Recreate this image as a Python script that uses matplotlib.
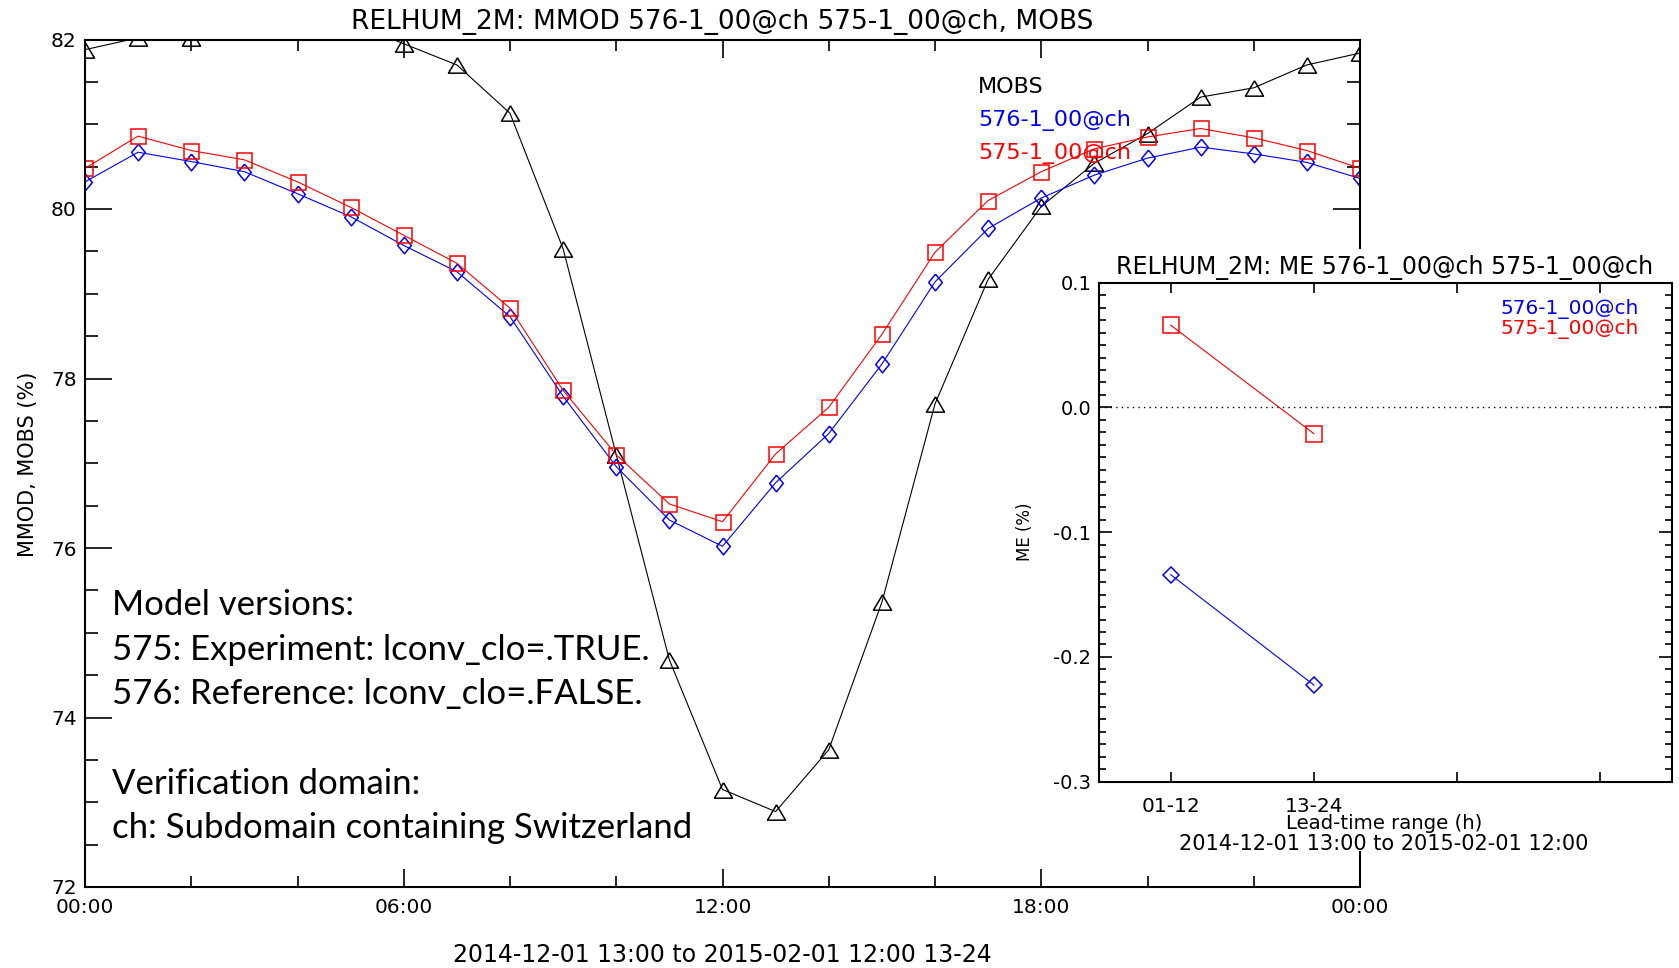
import numpy as np
import matplotlib
matplotlib.use("Agg")
import matplotlib.pyplot as plt
from matplotlib.patches import Rectangle

W, H = 1679, 968

# ---- data: main panel (hourly, 00:00 .. 24:00)
hours = list(range(25))
mobs = [81.88, 82.02, 82.02, 82.15, 82.25, 82.20, 81.95, 81.70, 81.13, 79.53,
        77.10, 74.68, 73.15, 72.89, 73.62, 75.36, 77.70, 79.17, 80.03, 80.54,
        80.89, 81.32, 81.43, 81.70, 81.84]
mod576 = [80.32, 80.67, 80.56, 80.44, 80.18, 79.91, 79.57, 79.26, 78.73, 77.79,
          76.96, 76.33, 76.02, 76.77, 77.35, 78.17, 79.14, 79.77, 80.13, 80.40,
          80.60, 80.73, 80.65, 80.55, 80.36]
mod575 = [80.48, 80.86, 80.69, 80.58, 80.32, 80.02, 79.69, 79.36, 78.83, 77.86,
          77.10, 76.52, 76.31, 77.11, 77.66, 78.52, 79.49, 80.10, 80.44, 80.71,
          80.85, 80.95, 80.84, 80.69, 80.48]
xtick_hours = [0, 6, 12, 18, 24]
xtick_labels = ['00:00', '06:00', '12:00', '18:00', '00:00']

# ---- data: inset (mean error by lead-time range)
lead_pos = [1, 2]
lead_labels = ['01-12', '13-24']
me576 = [-0.134, -0.2225]
me575 = [0.066, -0.021]

notes = ['Model versions:',
         '575: Experiment: lconv_clo=.TRUE.',
         '576: Reference: lconv_clo=.FALSE.',
         '',
         'Verification domain:',
         'ch: Subdomain containing Switzerland']


def fx(x):
    return x / W


def fy(y):
    return 1 - y / H


def box(l, t, r, b):
    return [l / W, 1 - b / H, (r - l) / W, (b - t) / H]


plt.rcParams['font.family'] = 'DejaVu Sans'
fig = plt.figure(figsize=(W / 100, H / 100), dpi=100)

tri = [(0, 0.85), (1, -0.85), (-1, -0.85), (0, 0.85)]
dia = [(0, 1), (0.82, 0), (0, -1), (-0.82, 0), (0, 1)]

# ---- main axes
ax = fig.add_axes(box(85, 39.5, 1360, 887))
ax.plot(hours, mobs, color='black', lw=0.8, marker=tri, ms=13, mfc='none', mew=1.1)
ax.plot(hours, mod576, color='blue', lw=0.8, marker=dia, ms=12, mfc='none', mew=1.1)
ax.plot(hours, mod575, color='red', lw=0.8, marker='s', ms=10.8, mfc='none', mew=1.1)
ax.set_xlim(0, 24)
ax.set_ylim(72, 82)
ax.set_xticks(xtick_hours)
ax.set_xticklabels(xtick_labels)
ax.set_xticks(np.arange(0, 25, 2), minor=True)
ax.set_yticks(np.arange(72, 83, 2))
ax.set_yticks(np.arange(72, 82.01, 0.5), minor=True)
for s in ax.spines.values():
    s.set_linewidth(1.5)
ax.tick_params(which='both', direction='in', top=True, right=True, width=1.2,
               labelsize=14.5, color='black')
ax.tick_params(axis='x', which='major', length=13, pad=8)
ax.tick_params(axis='x', which='minor', length=8)
ax.tick_params(axis='y', which='major', length=19.4, pad=6)
ax.tick_params(axis='y', which='minor', length=9.5)

fig.text(fx(722), fy(29), 'RELHUM_2M: MMOD 576-1_00@ch 575-1_00@ch, MOBS',
         ha='center', va='baseline', fontsize=19)
fig.text(fx(28), fy(464), 'MMOD, MOBS (%)', rotation=90, ha='center', va='center',
         fontsize=15)
fig.text(fx(722), fy(962), '2014-12-01 13:00 to 2015-02-01 12:00 13-24',
         ha='center', va='baseline', fontsize=17)

for i, (lab, col) in enumerate([('MOBS', 'black'), ('576-1_00@ch', 'blue'),
                                ('575-1_00@ch', 'red')]):
    fig.text(fx(978), fy(92.7 + 33.3 * i), lab, color=col, ha='left',
             va='baseline', fontsize=16)

for i, line in enumerate(notes):
    fig.text(fx(112), fy(615 + 44.7 * i), line, ha='left', va='baseline',
             fontsize=25, family='Lato')

# ---- white panel behind inset
fig.add_artist(Rectangle((fx(1015), fy(851)), (1679 - 1015) / W, (851 - 249) / H,
                         transform=fig.transFigure, facecolor='white',
                         edgecolor='none', zorder=2))

# ---- inset axes
ai = fig.add_axes(box(1099, 282.7, 1672, 781.7), zorder=3)
ai.axhline(0, color='black', lw=1.0, ls=(0, (1, 3)))
ai.plot(lead_pos, me576, color='blue', lw=0.8, marker='D', ms=8.6, mfc='none', mew=1.1)
ai.plot(lead_pos, me575, color='red', lw=0.8, marker='s', ms=12, mfc='none', mew=1.1)
ai.set_xlim(0.5, 4.5)
ai.set_ylim(-0.3, 0.1)
ai.set_xticks([1, 2, 3, 4])
ai.set_xticklabels(lead_labels + ['', ''])
ai.set_yticks(np.arange(-0.3, 0.11, 0.1))
ai.set_yticklabels(['%.1f' % v if abs(v) > 1e-9 else '0.0' for v in np.arange(-0.3, 0.11, 0.1)])
ai.set_yticks(np.arange(-0.3, 0.1001, 0.01), minor=True)
for s in ai.spines.values():
    s.set_linewidth(1.5)
ai.tick_params(which='both', direction='in', top=True, right=True, width=1.2)
ai.tick_params(axis='x', which='major', length=7.2, pad=11, labelsize=14.5)
ai.tick_params(axis='y', which='major', length=9.6, pad=5.5, labelsize=14)
ai.tick_params(axis='y', which='minor', length=4.8)
ai.tick_params(axis='x', which='minor', length=0)

fig.text(fx(1385), fy(274), 'RELHUM_2M: ME 576-1_00@ch 575-1_00@ch',
         ha='center', va='baseline', fontsize=17, zorder=4)
fig.text(fx(1500), fy(314), '576-1_00@ch', color='blue', ha='left', va='baseline',
         fontsize=14.5, zorder=4)
fig.text(fx(1500), fy(334), '575-1_00@ch', color='red', ha='left', va='baseline',
         fontsize=14.5, zorder=4)
fig.text(fx(1025), fy(532), 'ME (%)', rotation=90, ha='center', va='center',
         fontsize=12, zorder=4)
fig.text(fx(1384), fy(829), 'Lead-time range (h)', ha='center', va='baseline',
         fontsize=14.2, zorder=4)
fig.text(fx(1384), fy(850), '2014-12-01 13:00 to 2015-02-01 12:00', ha='center',
         va='baseline', fontsize=15, zorder=4)

fig.savefig('out.png', dpi=100, facecolor='white')
